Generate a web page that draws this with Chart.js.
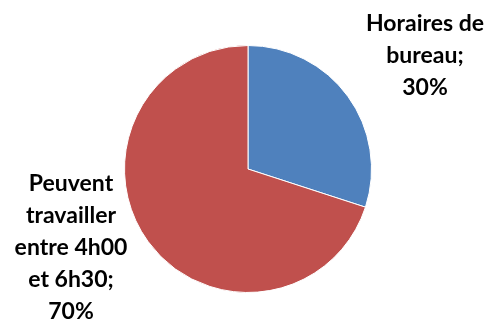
<!DOCTYPE html>
<html>
<head>
<meta charset="utf-8">
<script src="https://cdn.jsdelivr.net/npm/chart.js@4"></script>
<style>
  html, body { margin: 0; padding: 0; background: #fff; }
  #wrap { width: 491px; height: 323px; }
</style>
</head>
<body>
<div id="wrap"><canvas id="chart"></canvas></div>
<script>
const categories = ['Horaires de\nbureau', 'Peuvent\ntravailler\nentre 4h00\net 6h30'];
const shares = [30, 70];
const sliceColors = ['#4F81BD', '#C0504D'];

// where each label block sits, relative to the pie centre
const labelOffsets = [{ dx: 177, dy: -113 }, { dx: -177, dy: 79 }];
const lineHeight = 32;

const outsideLabels = {
	id: 'outsideLabels',
	afterDraw(chart) {
		const ctx = chart.ctx;
		const arcs = chart.getDatasetMeta(0).data;
		ctx.save();
		ctx.font = 'bold 23px Lato, "Open Sans", sans-serif';
		ctx.fillStyle = '#000';
		ctx.textAlign = 'center';
		ctx.textBaseline = 'middle';
		arcs.forEach((arc, i) => {
			const lines = categories[i].split('\n');
			lines[lines.length - 1] += ';';
			lines.push(shares[i] + '%');
			const cx = arc.x + labelOffsets[i].dx;
			const cy = arc.y + labelOffsets[i].dy;
			const top = cy - (lines.length - 1) * lineHeight / 2;
			lines.forEach((line, j) => ctx.fillText(line, cx, top + j * lineHeight));
		});
		ctx.restore();
	}
};

new Chart(document.getElementById('chart'), {
	type: 'pie',
	data: {
		labels: categories,
		datasets: [{
			data: shares,
			backgroundColor: sliceColors,
			borderColor: '#ffffff',
			borderWidth: 1
		}]
	},
	options: {
		responsive: true,
		maintainAspectRatio: false,
		animation: false,
		layout: { padding: { top: 45, bottom: 30, left: 5, right: 0 } },
		plugins: {
			legend: { display: false },
			tooltip: { enabled: false }
		}
	},
	plugins: [outsideLabels]
});
</script>
</body>
</html>
